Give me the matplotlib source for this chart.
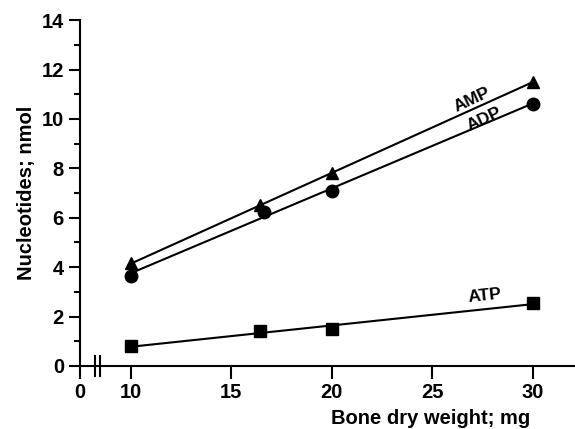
import numpy as np
import matplotlib
matplotlib.use("Agg")
import matplotlib.pyplot as plt
from matplotlib.ticker import MultipleLocator

plt.rcParams["font.family"] = ["Liberation Sans", "DejaVu Sans"]
plt.rcParams["font.weight"] = "bold"

# data
peso = [10, 16.4, 20, 30]
amp = [4.15, 6.5, 7.8, 11.5]
peso_adp = [10, 16.6, 20, 30]
adp = [3.65, 6.25, 7.1, 10.6]
atp = [0.8, 1.4, 1.5, 2.55]

xticks = [0, 10, 15, 20, 25, 30]
yticks = [0, 2, 4, 6, 8, 10, 12, 14]

# compressed segment between 0 and 10 (axis break)
k = 0.254


def forward(x):
    x = np.asarray(x, dtype=float)
    return np.where(x < 10, 10 - (10 - x) * k, x)


def inverse(u):
    u = np.asarray(u, dtype=float)
    return np.where(u < 10, 10 - (10 - u) / k, u)


fig = plt.figure(figsize=(5.75, 4.29), dpi=100)
ax = fig.add_axes([0.139, 0.147, 0.861, 0.806])
ax.set_xscale("function", functions=(forward, inverse))

lw = 1.5
for xs, ys, m, ms in [(peso, amp, "^", 9), (peso_adp, adp, "o", 9), (peso, atp, "s", 8)]:
    ax.plot(xs, ys, linestyle="none", marker=m, color="black", markersize=ms)
    a, b = np.polyfit(xs, ys, 1)
    xx = np.array([10, 30])
    ax.plot(xx, a * xx + b, color="black", linewidth=lw)

ax.text(26.97, 10.76, "AMP", rotation=25, ha="center", va="center", fontsize=12.5, fontweight="bold")
ax.text(27.56, 10.0, "ADP", rotation=25, ha="center", va="center", fontsize=12.5, fontweight="bold")
ax.text(27.6, 2.85, "ATP", rotation=6, ha="center", va="center", fontsize=12.5, fontweight="bold")

ax.set_xlim(0, 32.1)
ax.set_ylim(0, 14)
ax.set_xticks(xticks)
ax.set_yticks(yticks)
ax.yaxis.set_minor_locator(MultipleLocator(1))

ax.spines["top"].set_visible(False)
ax.spines["right"].set_visible(False)
ax.spines["left"].set_linewidth(lw)
ax.spines["bottom"].set_linewidth(lw)
ax.tick_params(axis="both", which="major", length=8, width=lw, labelsize=14.5, direction="out")
ax.tick_params(axis="y", which="minor", length=4, width=lw)
ax.tick_params(axis="x", which="major", length=9)
for lab in ax.get_xticklabels() + ax.get_yticklabels():
    lab.set_fontweight("bold")

# break marks on the x axis
for xb in [3.0, 4.0]:
    ax.plot([xb, xb], [-0.4, 0.4], color="black", linewidth=lw, clip_on=False)

ax.set_ylabel("Nucleotides; nmol", fontsize=14.5, fontweight="bold")
ax.set_xlabel("Bone dry weight; mg", fontsize=14.5, fontweight="bold")
ax.xaxis.set_label_coords(0.709, -0.125)

fig.savefig("out.png", dpi=100)
